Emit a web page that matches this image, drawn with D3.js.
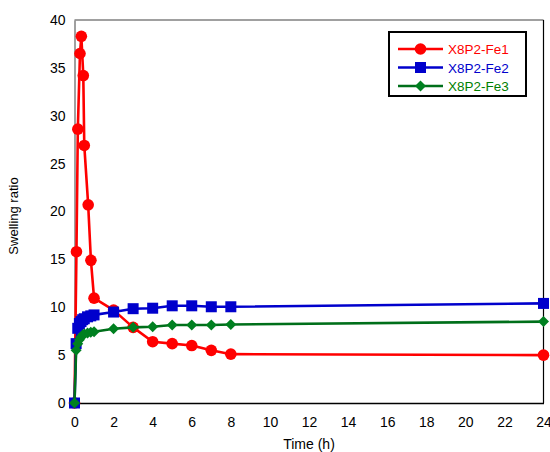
<!DOCTYPE html>
<html>
<head>
<meta charset="utf-8">
<script src="https://cdn.jsdelivr.net/npm/d3@7"></script>
<style>
  html, body { margin: 0; padding: 0; background: #fff; }
  svg { display: block; font-family: "Liberation Sans", Arial, sans-serif; }
</style>
</head>
<body>
<svg id="chart" width="550" height="452"></svg>
<script>
// Sampling times (h)
const timeFe1 = [0, 0.1, 0.17, 0.28, 0.35, 0.45, 0.5, 0.7, 0.84, 1, 2, 3, 4, 5, 6, 7, 8, 24];
const timeFe2 = [0, 0.083, 0.167, 0.25, 0.333, 0.417, 0.5, 0.667, 0.833, 1, 2, 3, 4, 5, 6, 7, 8, 24];
const timeFe3 = [0, 0.083, 0.167, 0.25, 0.333, 0.417, 0.5, 0.667, 0.833, 1, 2, 3, 4, 5, 6, 7, 8, 24];

// Swelling ratio of each sample
const swellFe1 = [0, 15.8, 28.6, 36.5, 38.3, 34.2, 26.9, 20.7, 14.9, 10.95, 9.7, 7.9, 6.4, 6.2, 6.0, 5.5, 5.1, 5.0];
const swellFe2 = [0, 6.2, 7.8, 8.3, 8.5, 8.7, 8.8, 9.0, 9.1, 9.2, 9.5, 9.85, 9.9, 10.15, 10.15, 10.05, 10.05, 10.4];
const swellFe3 = [0, 5.5, 6.2, 6.6, 6.9, 7.1, 7.2, 7.3, 7.4, 7.45, 7.75, 7.9, 7.97, 8.15, 8.15, 8.15, 8.2, 8.5];

const seriesNames = ["X8P2-Fe1", "X8P2-Fe2", "X8P2-Fe3"];
const xTicks = [0, 2, 4, 6, 8, 10, 12, 14, 16, 18, 20, 22, 24];
const yTicks = [0, 5, 10, 15, 20, 25, 30, 35, 40];

const series = [
  { name: seriesNames[0], t: timeFe1, v: swellFe1, color: "#ff0000", text: "#ff0000", marker: "circle" },
  { name: seriesNames[1], t: timeFe2, v: swellFe2, color: "#0000cc", text: "#0000cc", marker: "square" },
  { name: seriesNames[2], t: timeFe3, v: swellFe3, color: "#006f1a", text: "#008000", marker: "diamond", fill: "#008020" }
];

const svg = d3.select("#chart");
const plotLeft = 74.5, plotRight = 543.5, plotTop = 20, plotBottom = 403;

const x = d3.scaleLinear().domain([0, 24]).range([plotLeft, plotRight]);
const y = d3.scaleLinear().domain([0, 40]).range([plotBottom, plotTop]);

// Plot frame
svg.append("line").attr("x1", plotLeft).attr("x2", plotRight).attr("y1", plotTop).attr("y2", plotTop)
  .attr("stroke", "#808080").attr("stroke-width", 1.5);
svg.append("line").attr("x1", plotRight).attr("x2", plotRight).attr("y1", plotTop).attr("y2", plotBottom)
  .attr("stroke", "#000").attr("stroke-width", 1.2);

// Axes (labels only, no tick marks)
const xAxis = d3.axisBottom(x).tickValues(xTicks).tickSize(0).tickPadding(14);
const gx = svg.append("g").attr("transform", `translate(0,${plotBottom})`).call(xAxis);
gx.select(".domain").attr("stroke", "#000").attr("stroke-width", 1.5);
gx.selectAll("text").attr("font-size", 14).attr("fill", "#000")
  .attr("font-family", "Liberation Sans, Arial, sans-serif");

const yAxis = d3.axisLeft(y).tickValues(yTicks).tickSize(0).tickPadding(9);
const gy = svg.append("g").attr("transform", `translate(${plotLeft},0)`).call(yAxis);
gy.select(".domain").attr("stroke", "#808080").attr("stroke-width", 1.5);
gy.selectAll("text").attr("font-size", 14).attr("fill", "#000")
  .attr("font-family", "Liberation Sans, Arial, sans-serif");

// Axis titles
svg.append("text").attr("x", (plotLeft + plotRight) / 2).attr("y", 449)
  .attr("text-anchor", "middle").attr("font-size", 14).text("Time (h)");
svg.append("text").attr("transform", "translate(18,216) rotate(-90)")
  .attr("text-anchor", "middle").attr("font-size", 13).text("Swelling ratio");

// Marker drawing
function drawMarker(g, kind, cx, cy, fill) {
  if (kind === "circle") {
    g.append("circle").attr("cx", cx).attr("cy", cy).attr("r", 5.8).attr("fill", fill);
  } else if (kind === "square") {
    g.append("rect").attr("x", cx - 5.5).attr("y", cy - 5.5).attr("width", 11).attr("height", 11).attr("fill", fill);
  } else {
    const r = 5.5;
    g.append("path").attr("d", `M${cx},${cy - r}L${cx + r},${cy}L${cx},${cy + r}L${cx - r},${cy}Z`).attr("fill", fill);
  }
}

const line = d3.line().x(d => x(d[0])).y(d => y(d[1]));

series.forEach(s => {
  const pts = s.t.map((t, i) => [t, s.v[i]]);
  const g = svg.append("g");
  g.append("path").datum(pts).attr("d", line).attr("fill", "none")
    .attr("stroke", s.color).attr("stroke-width", 2.6).attr("stroke-linejoin", "round");
  pts.forEach(p => drawMarker(g, s.marker, x(p[0]), y(p[1]), s.fill || s.color));
});

// Legend
const lg = svg.append("g");
lg.append("rect").attr("x", 389).attr("y", 32).attr("width", 137).attr("height", 64)
  .attr("fill", "#fff").attr("stroke", "#000").attr("stroke-width", 2);
series.forEach((s, i) => {
  const ly = 49 + i * 18.5;
  lg.append("line").attr("x1", 398).attr("x2", 443).attr("y1", ly).attr("y2", ly)
    .attr("stroke", s.color).attr("stroke-width", 2.6);
  drawMarker(lg, s.marker, 420.5, ly, s.fill || s.color);
  lg.append("text").attr("x", 448).attr("y", ly + 5).attr("font-size", 13.5)
    .attr("fill", s.text).text(s.name);
});
</script>
</body>
</html>
